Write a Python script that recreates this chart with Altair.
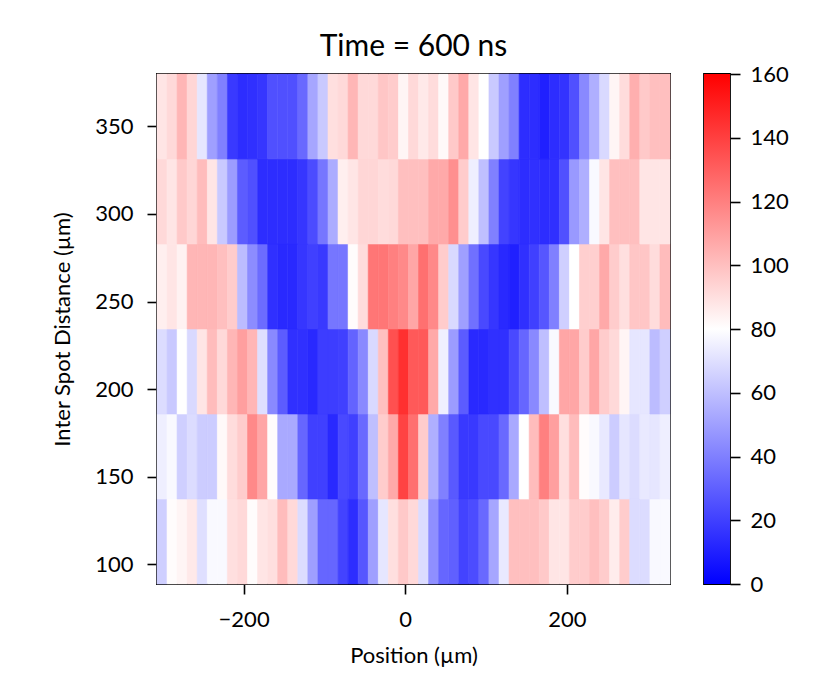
import altair as alt
import pandas as pd

# ---- data ----
# Row centres (Inter Spot Distance, µm), bottom to top
spot_distance = [113.1, 161.6, 210.1, 258.6, 307.1, 355.6]
row_height = 48.48
# Position grid (µm): left edge of first column and column pitch
x_start = -307.2
x_step = 12.45

row_113 = [65, 81, 83, 87, 70, 78, 78, 90, 92, 81, 88, 90, 101, 92, 69, 50, 32, 32, 21, 14,
           27, 50, 72, 90, 97, 92, 69, 45, 32, 30, 21, 24, 33, 52, 73, 100, 100, 100, 97, 88,
           88, 96, 96, 100, 96, 86, 96, 69, 69, 78, 78]
row_162 = [75, 78, 65, 69, 64, 64, 82, 91, 96, 117, 108, 81, 53, 53, 32, 20, 20, 13, 23, 20,
           33, 60, 96, 107, 139, 125, 96, 55, 40, 28, 18, 18, 23, 23, 33, 53, 80, 101, 120, 110,
           90, 101, 81, 78, 73, 64, 72, 69, 73, 72, 75]
row_210 = [69, 63, 80, 68, 88, 101, 92, 103, 110, 103, 70, 43, 29, 15, 15, 13, 19, 19, 20, 31,
           43, 68, 100, 135, 145, 132, 132, 107, 75, 49, 29, 13, 13, 15, 15, 23, 32, 43, 60, 78,
           108, 108, 96, 108, 96, 92, 83, 72, 72, 59, 65]
row_259 = [85, 88, 84, 103, 103, 103, 100, 96, 59, 44, 34, 15, 13, 13, 17, 20, 18, 37, 37, 81,
           91, 123, 123, 120, 117, 108, 125, 117, 96, 68, 50, 35, 23, 17, 13, 10, 15, 20, 27, 40,
           65, 80, 95, 95, 107, 96, 90, 98, 98, 91, 101]
row_307 = [92, 88, 97, 93, 101, 88, 63, 49, 29, 25, 14, 14, 14, 14, 17, 24, 37, 54, 85, 88,
           93, 93, 91, 92, 100, 100, 100, 107, 107, 115, 96, 75, 60, 40, 21, 17, 14, 15, 14, 15,
           25, 48, 55, 78, 88, 100, 100, 100, 88, 88, 88]
row_356 = [88, 92, 103, 93, 72, 50, 40, 18, 14, 15, 17, 25, 25, 25, 33, 52, 63, 90, 92, 103,
           92, 92, 98, 96, 83, 92, 87, 91, 82, 97, 107, 88, 80, 63, 50, 40, 14, 14, 10, 14,
           16, 25, 43, 55, 68, 83, 91, 105, 97, 100, 100]

rows = [row_113, row_162, row_210, row_259, row_307, row_356]

x_ticks = [-200, 0, 200]
y_ticks = [100, 150, 200, 250, 300, 350]
cb_domain = [0, 80, 160]
cb_colors = ["#0000ff", "#ffffff", "#ff0000"]
cb_ticks = [0, 20, 40, 60, 80, 100, 120, 140, 160]

# ---- build table ----
records = []
for yc, vals in zip(spot_distance, rows):
    for i, v in enumerate(vals):
        x0 = x_start + i * x_step
        records.append(dict(x0=x0, x1=x0 + x_step,
                            y0=yc - row_height / 2, y1=yc + row_height / 2, value=v))
df = pd.DataFrame(records)

x_dom = [x_start, x_start + x_step * len(row_113)]
y_dom = [spot_distance[0] - row_height / 2, spot_distance[-1] + row_height / 2]

FONT = "Lato"
color_scale = alt.Scale(domain=cb_domain, range=cb_colors, interpolate="rgb")

heat = alt.Chart(df).mark_rect(strokeWidth=0.6).encode(
    x=alt.X("x0:Q", scale=alt.Scale(domain=x_dom, nice=False, zero=False),
            axis=alt.Axis(values=x_ticks, format="d", title="Position (µm)",
                          titlePadding=15, labelPadding=15)),
    x2="x1:Q",
    y=alt.Y("y0:Q", scale=alt.Scale(domain=y_dom, nice=False, zero=False),
            axis=alt.Axis(values=y_ticks, format="d", title="Inter Spot Distance (µm)",
                          titlePadding=20, labelPadding=14)),
    y2="y1:Q",
    color=alt.Color("value:Q", scale=color_scale, legend=None),
    stroke=alt.Stroke("value:Q", scale=color_scale, legend=None),
).properties(
    width=513, height=510,
    title=alt.Title("Time = 600 ns", font=FONT, fontSize=30, fontWeight="normal",
                    color="black", offset=12, anchor="middle"),
)

lo, hi = cb_domain[0], cb_domain[-1]
grad = alt.LinearGradient(
    gradient="linear",
    stops=[alt.GradientStop(color=c, offset=(d - lo) / (hi - lo)) for d, c in zip(cb_domain, cb_colors)],
    x1=0, x2=0, y1=1, y2=0,
)
cb_df = pd.DataFrame({"lo": [lo], "hi": [hi]})
cbar = alt.Chart(cb_df).mark_rect(color=grad).encode(
    y=alt.Y("lo:Q", scale=alt.Scale(domain=[lo, hi], nice=False, zero=False),
            axis=alt.Axis(orient="right", values=cb_ticks, title=None, labelPadding=10)),
    y2="hi:Q",
    x=alt.value(0),
    x2=alt.value(26),
).properties(width=26, height=510)

chart = alt.hconcat(heat, cbar, spacing=31).properties(
    padding={"left": 42, "top": 22, "right": 5, "bottom": 5},
    background="white",
).configure_view(
    stroke="black", strokeWidth=1.8,
).configure_axis(
    labelFont=FONT, labelFontSize=22, labelColor="black",
    titleFont=FONT, titleFontSize=22, titleFontWeight="normal", titleColor="black",
    tickColor="black", tickWidth=1.6, tickSize=10, domain=False, grid=False,
)

chart.save("out.html", embed_options={"renderer": "svg", "actions": False})
